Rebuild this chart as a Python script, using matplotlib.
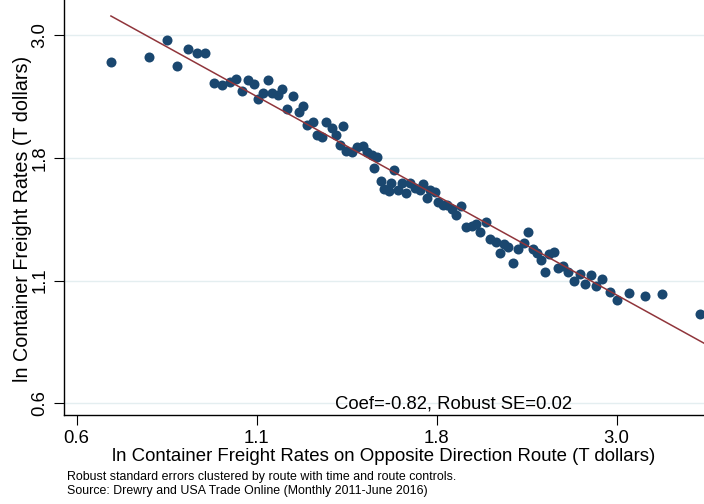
import numpy as np
import matplotlib
matplotlib.use("Agg")
import matplotlib.pyplot as plt

plt.rcParams['font.family'] = ['Liberation Sans', 'DejaVu Sans']

# binned scatter, log units (ln of T dollars)
ln_opposite = [-0.361, -0.252, -0.203, -0.173, -0.142, -0.117, -0.092, -0.067, -0.045, -0.021,
               -0.005, 0.012, 0.031, 0.047, 0.060, 0.072, 0.087, 0.100, 0.115, 0.127,
               0.143, 0.160, 0.175, 0.188, 0.200, 0.217, 0.227, 0.241, 0.253, 0.270,
               0.282, 0.293, 0.303, 0.311, 0.327, 0.341, 0.360, 0.370, 0.384, 0.400,
               0.391, 0.448, 0.410, 0.419, 0.438, 0.434, 0.460, 0.470, 0.482, 0.495,
               0.508, 0.532, 0.521, 0.552, 0.565, 0.542, 0.575, 0.587, 0.600, 0.613,
               0.625, 0.639, 0.654, 0.670, 0.682, 0.694, 0.712, 0.724, 0.740, 0.751,
               0.763, 0.773, 0.789, 0.803, 0.819, 0.832, 0.846, 0.858, 0.868, 0.880,
               0.892, 0.906, 0.916, 0.932, 0.947, 0.963, 0.980, 0.994, 1.011, 1.026,
               1.044, 1.066, 1.086, 1.119, 1.166, 1.215, 1.323]
ln_rate = [0.973, 0.994, 1.064, 0.955, 1.028, 1.009, 1.011, 0.883, 0.876, 0.889,
           0.900, 0.852, 0.897, 0.880, 0.816, 0.841, 0.897, 0.841, 0.834, 0.859,
           0.774, 0.831, 0.764, 0.789, 0.708, 0.722, 0.666, 0.656, 0.719, 0.694,
           0.666, 0.624, 0.704, 0.599, 0.596, 0.617, 0.621, 0.596, 0.582, 0.572,
           0.529, 0.519, 0.474, 0.438, 0.463, 0.432, 0.435, 0.466, 0.421, 0.466,
           0.442, 0.459, 0.435, 0.433, 0.426, 0.402, 0.386, 0.372, 0.372, 0.354,
           0.330, 0.368, 0.279, 0.284, 0.292, 0.260, 0.299, 0.229, 0.218, 0.172,
           0.208, 0.194, 0.127, 0.189, 0.214, 0.259, 0.187, 0.172, 0.141, 0.092,
           0.165, 0.176, 0.106, 0.118, 0.092, 0.054, 0.083, 0.041, 0.078, 0.033,
           0.060, 0.008, -0.027, 0.002, -0.010, -0.003, -0.087]

# fitted line
fit_intercept = 0.872
fit_slope = -0.809
fit_range = [-0.362, 1.335]

tick_pos = [-0.46, 0.055, 0.57, 1.085]
tick_labels = ["0.6", "1.1", "1.8", "3.0"]

navy = "#1a476f"
maroon = "#90353b"

fig = plt.figure(figsize=(7.04, 5.04), dpi=100)
ax = fig.add_axes([64/704, 1 - 414.7/504, 640/704, 414.7/504])

ax.scatter(ln_opposite, ln_rate, s=52, color=navy, linewidths=0, zorder=3)
xf = np.array(fit_range)
ax.plot(xf, fit_intercept + fit_slope * xf, color=maroon, lw=1.1, zorder=4)

ax.set_xlim(-0.4963, 1.335)
ax.set_ylim(-0.508, 1.232)

ax.set_xticks(tick_pos)
ax.set_xticklabels(tick_labels)
ax.set_yticks(tick_pos)
ax.set_yticklabels(tick_labels, rotation=90, va='center')
ax.tick_params(axis='both', length=7, width=0.8, labelsize=13.3, pad=4)
ax.yaxis.grid(True, color='#e4eef0', lw=1)
ax.set_axisbelow(True)

for s in ['top', 'right']:
    ax.spines[s].set_visible(False)
for s in ['left', 'bottom']:
    ax.spines[s].set_linewidth(1.0)

ax.set_xlabel("ln Container Freight Rates on Opposite Direction Route (T dollars)", fontsize=13.4, labelpad=1)
ax.set_ylabel("ln Container Freight Rates (T dollars)", fontsize=14.2)
ax.yaxis.set_label_coords(-0.05, 0.472)

ax.text(0.279, -0.463, "Coef=-0.82, Robust SE=0.02", fontsize=13.3, ha='left', va='center')

fig.text(67/704, 1 - 471/504, "Robust standard errors clustered by route with time and route controls.\n"
         "Source: Drewry and USA Trade Online (Monthly 2011-June 2016)",
         fontsize=8.9, ha='left', va='top', linespacing=1.2)

fig.savefig("out.png", dpi=100)
